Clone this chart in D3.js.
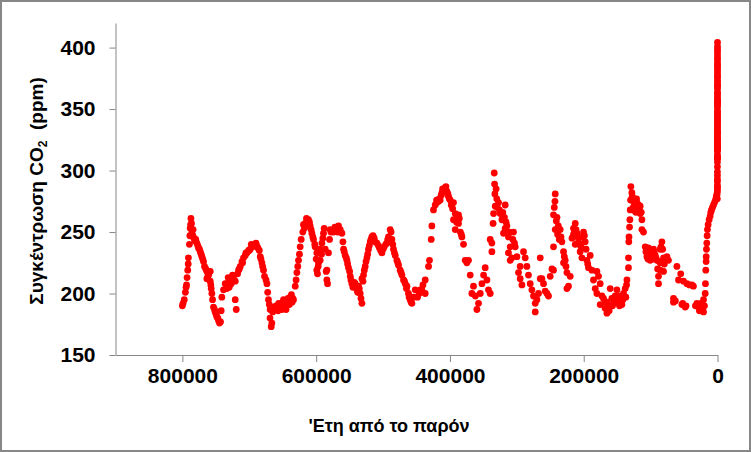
<!DOCTYPE html>
<html>
<head>
<meta charset="utf-8">
<script src="https://cdn.jsdelivr.net/npm/d3@7"></script>
<style>
  body { margin: 0; background: #fff; }
  svg { display: block; font-family: "Liberation Sans", Arial, sans-serif; }
</style>
</head>
<body>
<script>
// EPICA-style ice core record: [years before present, CO2 ppm]
const iceCore = [
  [800000,190],[799000,192],[797200,195],[795500,201],[794500,205],[793800,207],[793000,213],[792000,219],
  [791300,224],[791000,229],[788800,247],[788300,253],[787200,261],[786400,257],[785800,249],[784300,247],
  [782800,245],[778300,241],[775900,237],[773300,234],[770800,230],[768400,226],[766900,222],[763400,218],
  [763400,212],[760900,215],[758400,210],[758400,218],[756900,204],[755900,200],[754900,195],[753500,189],
  [751000,185],[748400,181],[746000,178],[743000,177],[742000,186],[741000,197],[738500,203],[736000,208],
  [733500,204],[731000,209],[728500,211],[723600,212],[721000,210],[721000,195],[719500,187],[716000,219],
  [713500,222],[711000,226],[708600,229],[706000,231],[703500,233],[701000,235],[698600,236],[695200,238],
  [691200,240],[689000,239],[687100,237],[683600,230],[681100,225],[678700,219],[677200,214],[673600,208],
  [671300,195],[668800,187],[667200,173],[666200,176],[663800,189],[661200,187],[658700,189],[656000,192],
  [653700,191],[651200,187],[648800,195],[646000,190],[643700,192],[641400,195],[638800,197],[636000,193],
  [633900,195],[631300,206],[628800,217],[626400,227],[623900,238],[622400,244],[619000,256],[616400,257],
  [613500,259],[611500,260],[609000,255],[606400,249],[604000,244],[601600,238],[599000,233],[599000,219],
  [596500,225],[594000,227],[594000,236],[591400,241],[589000,249],[586500,236],[584000,211],[584000,219],
  [581600,233],[580000,244],[579000,252],[576500,251],[574000,250],[570000,253],[566600,255],[564000,252],
  [561500,249],[560000,242],[559000,236],[556600,231],[554000,227],[551700,221],[549000,214],[546600,208],
  [544200,206],[541600,208],[539000,203],[536700,206],[534200,200],[531600,192],[531600,212],[529200,215],
  [526700,222],[524100,229],[521800,236],[519200,242],[516700,246],[513200,245],[509200,241],[505300,237],
  [501700,233],[498300,238],[494200,241],[491900,246],[489300,252],[486800,244],[484400,236],[481800,231],
  [479300,227],[476900,223],[474400,219],[471800,215],[469400,211],[466800,208],[464300,206],[462000,200],
  [459400,195],[456900,192],[454500,197],[451900,203],[448500,197],[446000,200],[444500,203],[442000,203],
  [440400,207],[437000,211],[437000,200],[432000,222],[430600,227],[428000,244],[427000,255],[424600,268],
  [422000,272],[419500,274],[417100,275],[414600,276],[412000,282],[409600,284],[407000,286],[404500,283],
  [402200,279],[399600,276],[394700,274],[394700,260],[392100,265],[392100,252],[389500,262],[387200,264],
  [387200,257],[384500,250],[382100,246],[379700,240],[377200,227],[374700,225],[372300,227],[369700,215],
  [367200,200],[364800,206],[362000,198],[359700,187],[357300,192],[354700,200],[352200,208],[349700,215],
  [347300,221],[344700,211],[342400,203],[339800,200],[339800,244],[337300,241],[337300,234],[335500,257],
  [334800,265],[333800,298],[333300,289],[332800,281],[332300,271],[330000,277],[327400,274],[324900,265],
  [322300,260],[319900,249],[317400,272],[317400,253],[314800,255],[312500,246],[312500,233],[309900,238],
  [309900,227],[307400,229],[305000,250],[302400,238],[299900,230],[297500,217],[295000,222],[295000,212],
  [292400,207],[290000,234],[287500,229],[285000,222],[282600,215],[280000,208],[277500,203],[275100,198],
  [272500,192],[272500,185],[270000,195],[267600,200],[265000,229],[265000,212],[262500,212],[260100,208],
  [257600,202],[255000,200],[252700,198],[250100,214],[247500,220],[245200,219],[245200,238],[245200,264],
  [243000,275],[242600,281],[242600,252],[241000,259],[238000,255],[235200,252],[232600,242],[230200,234],
  [230200,225],[227700,227],[225100,217],[225100,204],[222800,206],[220200,214],[217500,245],[215300,253],
  [215300,248],[212700,257],[212700,240],[210200,249],[207800,242],[205300,234],[202700,229],[200300,250],
  [197800,242],[195200,227],[192900,221],[190300,231],[187800,219],[185400,211],[182800,204],[180300,218],
  [180300,200],[177900,214],[175400,208],[175400,191],[172800,198],[170400,196],[167800,193],[165300,193],
  [165300,184],[163000,189],[160400,204],[158000,196],[155500,192],[152900,198],[150400,203],[148000,193],
  [145500,198],[142900,191],[140500,200],[138000,204],[135400,211],[133100,221],[133100,229],[132600,242],
  [132300,246],[131000,260],[130500,268],[130000,276],[129500,287],[128000,282],[126800,278],[125600,275],
  [123000,267],[120500,274],[118000,272],[115600,271],[115600,265],[113000,260],[113000,252],[110600,250],
  [108100,238],[105500,230],[103200,237],[100600,227],[98000,232],[95700,236],[93100,231],[90600,227],
  [88200,214],[88200,208],[85700,236],[85700,225],[85700,219],[83100,242],[80700,229],[80700,218],
  [75600,230],[73300,227],[65800,196],[65800,193],[60700,222],[58300,211],[53200,191],[50800,210],
  [48300,189],[45700,208],[38300,207],[36000,206],[30800,192],[28400,189],[25800,190],[23300,188],
  [20900,185],[20900,195],[19500,190],[18400,200],[18000,208],[17500,219],[17000,226],[16900,230],
  [16500,236],[16000,241],[15500,247],[15000,252],[14000,256],[12500,260],[11000,263],[10000,266],
  [9000,268],[7500,270],[6000,272],[4500,274],[3000,276],[2000,278],[1500,279],[1000,280],[700,281],
  // second pass, denser clusters
  [789500,240],[787800,256],[784000,252],[781500,243],[780000,244],[777000,239],[774500,236],[772000,232],
  [769500,228],[765000,220],[762000,214],[757500,207],[752000,187],[749500,183],[747000,180],[744500,176],
  [733000,207],[731500,213],[730000,205],[727000,208],[725000,215],[717500,216],[715000,220],[710000,225],
  [705000,233],[700000,235],[697000,240],[693000,239],[690000,241],[685000,235],[682500,228],[680000,222],
  [675000,211],[672500,201],[670000,191],[669000,180],[665000,185],[660000,190],[657000,186],[655000,188],
  [650000,193],[645000,187],[642000,196],[640000,191],[637000,199],[635000,196],[630000,211],[627500,222],
  [625000,232],[620000,250],[617500,253],[614500,261],[610000,258],[607500,252],[605000,246],[602000,240],
  [600000,228],[598000,216],[597000,222],[592000,232],[590000,245],[588000,253],[585000,218],[583000,208],
  [578000,250],[572000,254],[568000,250],[558000,234],[555000,229],[553000,224],[550000,218],[548000,211],
  [545000,205],[543000,209],[538000,201],[535500,204],[533000,196],[530000,210],[528000,219],[525500,226],
  [523000,232],[520500,239],[518000,244],[515000,247],[512000,242],[507000,239],[503500,235],[500000,236],
  [496000,240],[493000,244],[488000,250],[485500,240],[483000,233],[478000,225],[473000,217],[468000,210],
  [465000,204],[461000,197],[458000,193],[420000,276],[416000,277],[413000,280],[411000,285],[408000,283],
  [406000,287],[403000,281],[401000,277],[398000,272],[396000,269],[390000,258],[386000,261],[383000,248],
  [331000,285],[329000,270],[326000,268],[321000,266],[318500,262],[316000,258],[311000,250],[306000,244],
  [303500,241],[244000,270],[240000,262],[239000,248],[236500,244],[234000,246],[229000,230],[226500,222],
  [214000,250],[211500,252],[209000,246],[206500,240],[204000,238],[201500,246],[199000,247],[196500,236],
  [194000,224],[168000,188],[162000,186],[157000,190],[154000,196],[151500,193],[146500,190],[144000,194],
  [141500,195],[137000,197],[136000,207],[131500,254],[127500,279],[126000,270],[124000,272],[122000,266],
  [121000,277],[119000,270],[117000,268],[114000,266],[107000,234],[104000,228],[101500,232],[97000,228],
  [94500,233],[92000,229],[89500,220],[87000,226],[84500,238],[82000,236],[79500,224],[77000,228],
  [63000,194],[55000,216],[52000,192],[47000,190],[42000,207],[33000,190],[27000,186],[24500,192],[22000,186]
];

// firn / Law Dome, calendar year and ppm
const lawDomeYear = [1750, 1800, 1850, 1860, 1870, 1880, 1890, 1900, 1910, 1920, 1930, 1940, 1945, 1950, 1955];
const lawDomeCO2  = [277,  283,  285,  286.5, 288, 291,  293,  296,  299,  303,  307,  310,  310,  311,  313];

// Mauna Loa annual means
const maunaLoaYear = d3.range(1959, 2017);
const maunaLoaCO2 = [
  316.0, 316.9, 317.6, 318.5, 319.0, 319.6, 320.0, 321.4, 322.2, 323.0,
  324.6, 325.7, 326.3, 327.5, 329.7, 330.2, 331.1, 332.0, 333.8, 335.4,
  336.8, 338.7, 339.9, 341.1, 342.8, 344.4, 345.9, 347.2, 349.0, 351.6,
  353.1, 354.4, 355.6, 356.5, 357.1, 358.8, 360.8, 362.6, 363.7, 366.7,
  368.4, 369.7, 371.3, 373.5, 375.8, 377.5, 379.8, 381.9, 383.8, 385.6,
  387.4, 389.9, 391.7, 393.9, 396.5, 398.6, 400.8, 404.2
];

const presentYear = 2016;
const xTicks = [800000, 600000, 400000, 200000, 0];
const yTicks = [150, 200, 250, 300, 350, 400];

const xTitle = "'Ετη από το παρόν";

// build one point list
let points = iceCore.map(d => ({ age: d[0], co2: d[1] }));
lawDomeYear.forEach((yr, i) => points.push({ age: presentYear - yr, co2: lawDomeCO2[i] }));
maunaLoaYear.forEach((yr, i) => points.push({ age: presentYear - yr, co2: maunaLoaCO2[i] }));

// size //
const W = 751, H = 452;
const plot = { left: 115.5, right: 717.5, top: 23, bottom: 355 };

const svg = d3.select('body').append('svg')
  .attr('width', W)
  .attr('height', H);

svg.append('rect')
  .attr('x', 0).attr('y', 0).attr('width', W).attr('height', H)
  .attr('fill', '#fff');

// outer frame
svg.append('rect')
  .attr('x', 1).attr('y', 1).attr('width', W - 2).attr('height', H - 2)
  .attr('fill', 'none')
  .attr('stroke', '#878787')
  .attr('stroke-width', 2);

// scales //
const x = d3.scaleLinear()
  .domain([900000, 0])
  .range([plot.left, plot.right]);

const y = d3.scaleLinear()
  .domain([150, 420])
  .range([plot.bottom, plot.top]);

// x axis
const gx = svg.append('g')
  .attr('transform', 'translate(0,' + plot.bottom + ')')
  .call(d3.axisBottom(x)
    .tickValues(xTicks)
    .tickFormat(d3.format('d'))
    .tickSizeInner(7)
    .tickSizeOuter(0)
    .tickPadding(6));

// y axis
const gy = svg.append('g')
  .attr('transform', 'translate(' + plot.left + ',0)')
  .call(d3.axisLeft(y)
    .tickValues(yTicks)
    .tickSizeInner(6)
    .tickSizeOuter(0)
    .tickPadding(14));

[gx, gy].forEach(g => {
  g.selectAll('.domain').attr('stroke', '#868686');
  g.selectAll('.tick line').attr('stroke', '#868686');
  g.selectAll('.tick text')
    .attr('fill', '#000')
    .style('font-family', '"Liberation Sans", Arial, sans-serif')
    .style('font-size', '21px')
    .style('font-weight', 'bold');
});

// axis titles
svg.append('text')
  .attr('x', 389)
  .attr('y', 432)
  .attr('text-anchor', 'middle')
  .style('font-size', '18px')
  .style('font-weight', 'bold')
  .text(xTitle);

const yt = svg.append('text')
  .attr('transform', 'translate(43,191) rotate(-90)')
  .attr('text-anchor', 'middle')
  .style('font-size', '19px')
  .style('font-weight', 'bold');
yt.append('tspan').text('Συγκέντρωση CO');
yt.append('tspan').attr('dy', 4).style('font-size', '12px').text('2');
yt.append('tspan').attr('dy', -4).text('  (ppm)').attr('xml:space', 'preserve');

// dots //
svg.append('g')
  .selectAll('circle')
  .data(points)
  .join('circle')
  .attr('cx', d => x(d.age))
  .attr('cy', d => y(d.co2))
  .attr('r', 3.4)
  .attr('fill', '#ff0000');
</script>
</body>
</html>
